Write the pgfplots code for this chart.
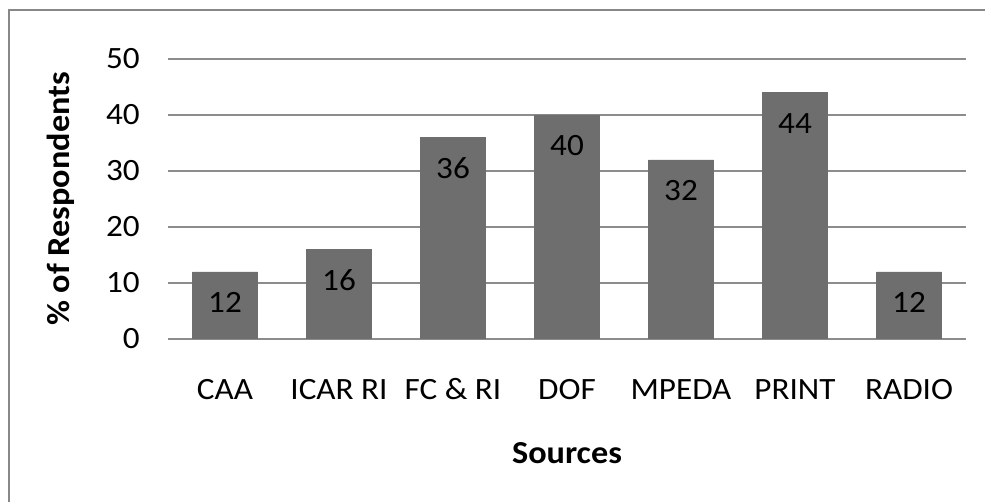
\documentclass[border=0pt]{standalone}
\usepackage{fontspec}
\setmainfont{Carlito}[FakeStretch=1.07]
\usepackage{pgfplots}
\pgfplotsset{compat=1.18}
\definecolor{barfill}{RGB}{110,110,110}
\definecolor{gridgray}{RGB}{140,140,140}
\definecolor{framegray}{RGB}{136,136,136}
\newcommand{\chartfont}{\fontsize{31}{36}\selectfont}
\newcommand{\labelfont}{\fontsize{32}{38}\selectfont}

\begin{document}
\begin{tikzpicture}[x=1pt,y=1pt]
  \path[use as bounding box, fill=white] (0,0) rectangle (985,502);
  % chart frame (left and top edges)
  \draw[framegray, line width=2pt] (9,0) -- (9,492) -- (985,492);
  \begin{axis}[
      at={(168pt,163pt)}, anchor=south west,
      scale only axis,
      width=798pt, height=280pt,
      xmin=-0.5, xmax=6.5,
      ymin=0, ymax=50,
      ytick={0,10,...,50},
      xtick={0,...,6},
      xticklabels={CAA, ICAR RI, FC \& RI, DOF, MPEDA, PRINT, RADIO},
      major tick length=0pt,
      axis line style={draw=none},
      ymajorgrids,
      grid style={gridgray, line width=1.6pt},
      /pgf/number format/assume math mode=true,
      yticklabel style={font=\chartfont, anchor=east, inner sep=0pt, xshift=-28pt},
      xticklabel style={font=\chartfont, anchor=base, inner sep=0pt, yshift=-61pt},
      xlabel={\textbf{Sources}},
      ylabel={\textbf{\% of Respondents}},
      xlabel style={font=\labelfont, at={(axis description cs:0.5,-0.407)}, anchor=center, inner sep=0pt},
      ylabel style={font=\labelfont, at={(axis description cs:-0.134,0.5)}, anchor=center, inner sep=0pt},
      ybar, bar width=65pt,
      nodes near coords,
      every node near coord/.append style={font=\chartfont, anchor=center, yshift=-31pt, black},
    ]
    \addplot[fill=barfill, draw=barfill] coordinates {
      (0,12) (1,16) (2,36) (3,40) (4,32) (5,44) (6,12)
    };
  \end{axis}
\end{tikzpicture}
\end{document}
